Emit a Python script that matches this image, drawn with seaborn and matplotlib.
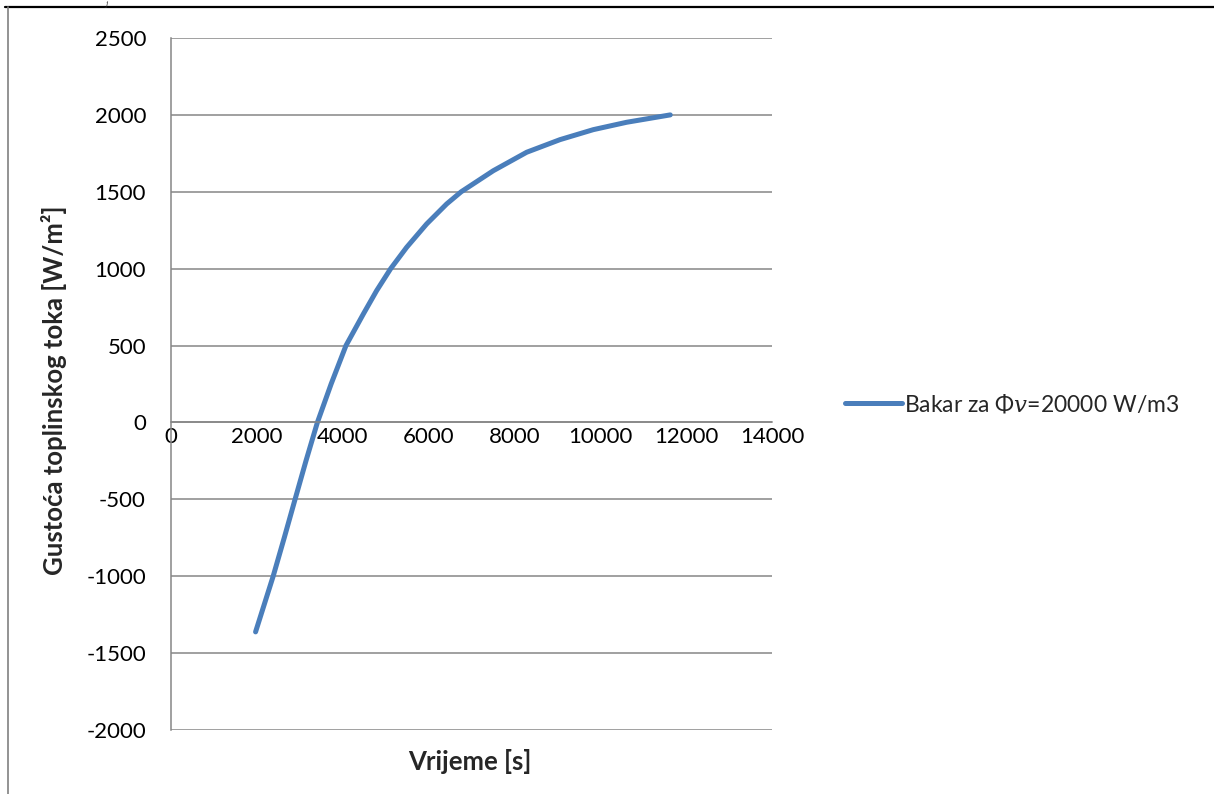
import matplotlib
matplotlib.use("Agg")
import matplotlib.pyplot as plt
import seaborn as sns
import pandas as pd
from matplotlib.lines import Line2D

# data
time_s = [1970, 2380, 2640, 2890, 3145, 3410, 3730, 4076, 4480, 4790, 5117, 5490,
          5956, 6422, 6760, 7508, 8285, 9061, 9837, 10614, 11630]
flux = [-1362, -1000, -748, -500, -249, 0, 250, 500, 705, 857, 1000, 1139,
        1291, 1421, 1500, 1637, 1757, 1839, 1904, 1952, 2000]
series_name = r"Bakar za Φ$\mathit{v}$=20000 W/m3"
y_ticks = [-2000, -1500, -1000, -500, 0, 500, 1000, 1500, 2000, 2500]
x_ticks = [0, 2000, 4000, 6000, 8000, 10000, 12000, 14000]

sns.set_theme(style="white")
plt.rcParams['font.family'] = ['Lato', 'DejaVu Sans']
plt.rcParams['mathtext.fontset'] = 'custom'
plt.rcParams['mathtext.rm'] = 'Lato'
plt.rcParams['mathtext.it'] = 'DejaVu Serif:italic'

df = pd.DataFrame({"t": time_s, "q": flux, "s": [series_name] * len(time_s)})

fig = plt.figure(figsize=(12.14, 7.94), dpi=100)
ax = fig.add_axes([171 / 1214, 1 - 730 / 794, 601 / 1214, 692 / 794])

sns.lineplot(data=df, x="t", y="q", hue="s", palette=["#4A7EBB"], sort=False,
             linewidth=3.6, ax=ax, solid_capstyle="round", solid_joinstyle="round",
             legend=True)

ax.set_xlim(0, 14000)
ax.set_ylim(-2000, 2500)
ax.set_yticks(y_ticks)
ax.set_xticks(x_ticks)
ax.set_yticklabels([str(v) for v in y_ticks])
ax.set_xticklabels([str(v) for v in x_ticks])
ax.grid(axis="y", color="#868686", linewidth=1.1)
ax.grid(axis="x", visible=False)
ax.set_axisbelow(True)
for s in ["top", "right"]:
    ax.spines[s].set_visible(False)
ax.spines["left"].set_color("#868686")
ax.spines["left"].set_linewidth(1.1)
ax.spines["bottom"].set_position(("data", 0))
ax.spines["bottom"].set_color("#868686")
ax.spines["bottom"].set_linewidth(1.1)
ax.tick_params(axis="y", length=0, pad=18, labelsize=16, colors="black")
ax.tick_params(axis="x", length=0, pad=3, labelsize=16, colors="black")

ax.set_xlabel("Vrijeme [s]", fontsize=18.5, fontweight="bold")
ax.set_ylabel("Gustoća toplinskog toka [W/m²]", fontsize=18.5, fontweight="bold")
ax.xaxis.set_label_coords(0.497, -0.028)
ax.yaxis.set_label_coords(-0.173, 0.491)

handles, labels = ax.get_legend_handles_labels()
ax.legend(handles, labels, loc="center left", bbox_to_anchor=(824 / 1214, 1 - 404 / 794),
          bbox_transform=fig.transFigure, frameon=False, fontsize=16.5,
          handlelength=2.5, handletextpad=0.1)

# page frame lines
fig.add_artist(Line2D([0.004, 1.0], [1 - 7 / 794, 1 - 7 / 794], transform=fig.transFigure,
                      color="black", linewidth=1.6))
fig.add_artist(Line2D([8 / 1214, 8 / 1214], [0, 1 - 7 / 794], transform=fig.transFigure,
                      color="#808080", linewidth=1.2))
fig.text(105 / 1214, 1 - 0.5 / 794, "j", fontsize=5, style="italic", family="DejaVu Serif",
         va="top", ha="left")

fig.savefig("out.png", dpi=100)
